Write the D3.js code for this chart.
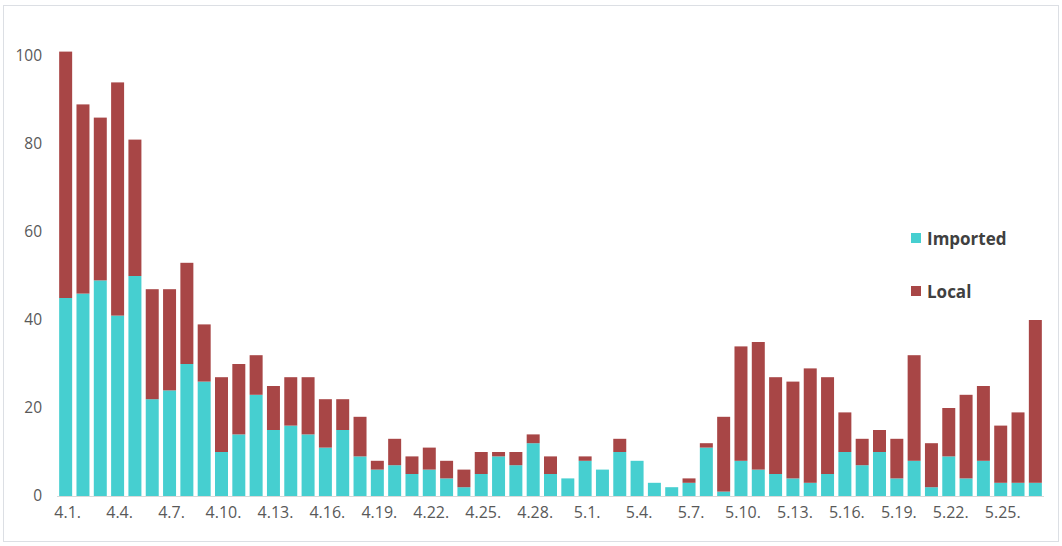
<!DOCTYPE html>
<html>
<head>
<meta charset="utf-8">
<script src="https://cdn.jsdelivr.net/npm/d3@7"></script>
<style>
  body { margin: 0; background: #fff; }
  svg text { font-family: "Open Sans", sans-serif; }
</style>
</head>
<body>
<div id="chart"></div>
<script>
// daily cases, 1 April - 27 May
const dates = [
  "4.1.", "4.2.", "4.3.", "4.4.", "4.5.", "4.6.", "4.7.", "4.8.", "4.9.", "4.10.",
  "4.11.", "4.12.", "4.13.", "4.14.", "4.15.", "4.16.", "4.17.", "4.18.", "4.19.", "4.20.",
  "4.21.", "4.22.", "4.23.", "4.24.", "4.25.", "4.26.", "4.27.", "4.28.", "4.29.", "4.30.",
  "5.1.", "5.2.", "5.3.", "5.4.", "5.5.", "5.6.", "5.7.", "5.8.", "5.9.", "5.10.",
  "5.11.", "5.12.", "5.13.", "5.14.", "5.15.", "5.16.", "5.17.", "5.18.", "5.19.", "5.20.",
  "5.21.", "5.22.", "5.23.", "5.24.", "5.25.", "5.26.", "5.27."
];
const imported = [
  45, 46, 49, 41, 50, 22, 24, 30, 26, 10,
  14, 23, 15, 16, 14, 11, 15, 9, 6, 7,
  5, 6, 4, 2, 5, 9, 7, 12, 5, 4,
  8, 6, 10, 8, 3, 2, 3, 11, 1, 8,
  6, 5, 4, 3, 5, 10, 7, 10, 4, 8,
  2, 9, 4, 8, 3, 3, 3
];
const local = [
  56, 43, 37, 53, 31, 25, 23, 23, 13, 17,
  16, 9, 10, 11, 13, 11, 7, 9, 2, 6,
  4, 5, 4, 4, 5, 1, 3, 2, 4, 0,
  1, 0, 3, 0, 0, 0, 1, 1, 17, 26,
  29, 22, 22, 26, 22, 9, 6, 5, 9, 24,
  10, 11, 19, 17, 13, 16, 37
];
const yTicks = [0, 20, 40, 60, 80, 100];
const seriesNames = ["Imported", "Local"];
const colors = ["#46CFD0", "#A84646"];

const width = 1062, height = 546;
const svg = d3.select("#chart").append("svg")
    .attr("width", width)
    .attr("height", height);

// outer frame
svg.append("rect")
    .attr("x", 3.5).attr("y", 5.5)
    .attr("width", 1055).attr("height", 536)
    .attr("fill", "#fff")
    .attr("stroke", "#dcdfe4");

const x = d3.scaleBand()
    .domain(dates)
    .range([57, 1044])
    .paddingInner(0.25)
    .paddingOuter(0.125);

const y = d3.scaleLinear()
    .domain([0, 100])
    .range([496, 56]);

const rows = dates.map((d, i) => ({ date: d, Imported: imported[i], Local: local[i] }));
const stacked = d3.stack().keys(seriesNames)(rows);

svg.selectAll("g.series")
    .data(stacked)
    .enter()
    .append("g")
    .attr("class", "series")
    .attr("fill", (d, i) => colors[i])
    .selectAll("rect")
    .data(d => d)
    .enter()
    .append("rect")
    .attr("x", d => x(d.data.date))
    .attr("width", x.bandwidth())
    .attr("y", d => y(d[1]))
    .attr("height", d => y(d[0]) - y(d[1]));

// y axis labels only
const yAxis = svg.append("g")
    .attr("transform", "translate(42,0)")
    .call(d3.axisLeft(y).tickValues(yTicks).tickSize(0).tickPadding(0));
yAxis.select(".domain").remove();
yAxis.selectAll("text")
    .attr("fill", "#595959")
    .style("font-size", "15.5px");

// x axis, a label every 3 days
const xAxis = svg.append("g")
    .attr("transform", "translate(0,496)")
    .call(d3.axisBottom(x)
        .tickValues(dates.filter((d, i) => i % 3 === 0))
        .tickSize(0)
        .tickPadding(11));
xAxis.select(".domain")
    .attr("stroke", "#d9d9d9")
    .attr("d", "M57,0.5H1044");
xAxis.selectAll("text")
    .attr("fill", "#595959")
    .attr("dx", "2px")
    .style("font-size", "16px");

// legend
const legend = svg.selectAll("g.legend")
    .data(seriesNames)
    .enter()
    .append("g")
    .attr("class", "legend")
    .attr("transform", (d, i) => `translate(911,${233 + i * 53})`);

legend.append("rect")
    .attr("width", 10).attr("height", 10)
    .attr("fill", (d, i) => colors[i]);

legend.append("text")
    .attr("x", 16)
    .attr("y", 12)
    .attr("fill", "#404040")
    .style("font-size", "17px")
    .style("font-weight", "bold")
    .text(d => d);
</script>
</body>
</html>
